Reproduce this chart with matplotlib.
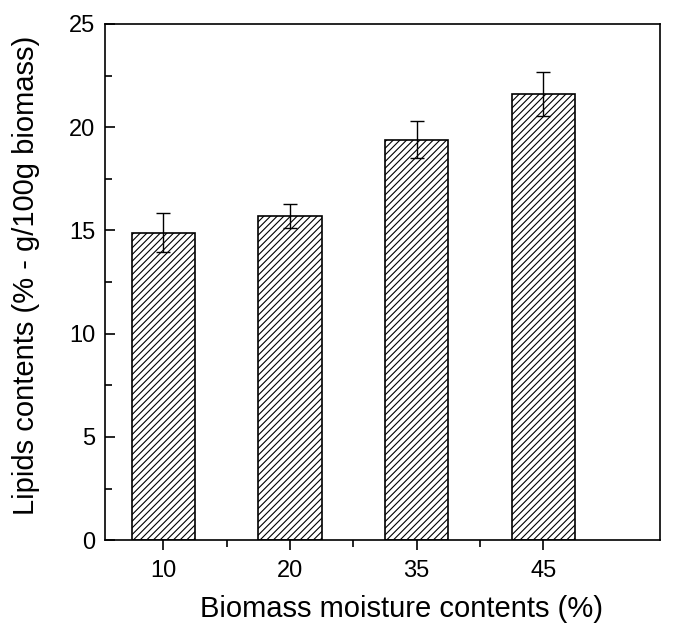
import matplotlib
matplotlib.use("Agg")
import matplotlib.pyplot as plt
from matplotlib.ticker import MultipleLocator
import numpy as np

plt.rcParams['font.family'] = ['Liberation Sans', 'DejaVu Sans']
plt.rcParams['hatch.linewidth'] = 0.8

categories = ['10', '20', '35', '45']
values = [14.9, 15.7, 19.4, 21.6]
errors = [0.95, 0.58, 0.88, 1.07]

fig = plt.figure(figsize=(6.78, 6.31), dpi=100)
ax = fig.add_axes([0.155, 0.144, 0.818, 0.818])

x = np.arange(len(categories))
ax.bar(x, values, width=0.5, color='white', edgecolor='black', linewidth=1.2,
       hatch='/////', zorder=2)
ax.errorbar(x, values, yerr=errors, fmt='none', ecolor='black', elinewidth=1.0,
            capsize=5, capthick=1.0, zorder=3)

ax.set_xlim(-0.46, 3.92)
ax.set_ylim(0, 25)
ax.set_xticks(x)
ax.set_xticklabels(categories)
ax.set_xticks(x[:-1] + 0.5, minor=True)
ax.yaxis.set_major_locator(MultipleLocator(5))
ax.yaxis.set_minor_locator(MultipleLocator(2.5))

ax.tick_params(axis='x', which='major', direction='out', length=7, width=1.2,
               labelsize=17, pad=7)
ax.tick_params(axis='x', which='minor', direction='out', length=5, width=1.2)
ax.tick_params(axis='y', which='major', direction='in', length=7, width=1.2,
               labelsize=17, pad=7)
ax.tick_params(axis='y', which='minor', direction='in', length=5, width=1.2)

for s in ax.spines.values():
    s.set_linewidth(1.2)

ax.set_xlabel('Biomass moisture contents (%)', fontsize=21)
ax.xaxis.set_label_coords(0.535, -0.107)
ax.set_ylabel('Lipids contents (% - g/100g biomass)', fontsize=21)
ax.yaxis.set_label_coords(-0.118, 0.513)

fig.savefig('out.png', dpi=100)
